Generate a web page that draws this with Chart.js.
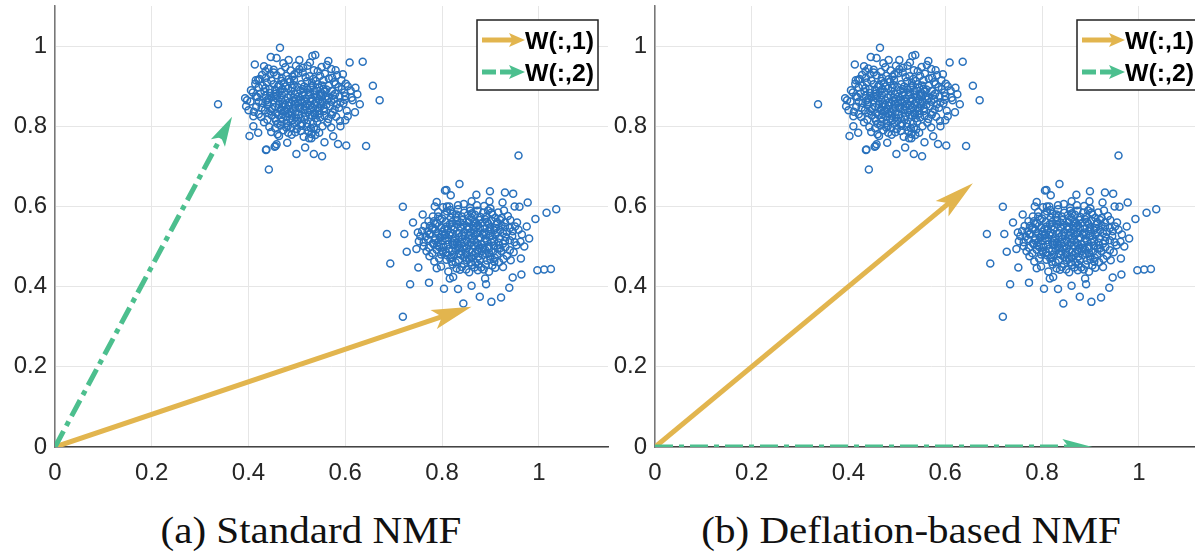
<!DOCTYPE html>
<html>
<head>
<meta charset="utf-8">
<script src="https://cdn.jsdelivr.net/npm/chart.js@4.4.0/dist/chart.umd.min.js"></script>
<style>
  html, body { margin: 0; padding: 0; background: #fff; }
  body { width: 1195px; height: 553px; overflow: hidden; position: relative; }
  .panel { position: absolute; top: 0; }
  #wrapA { left: 0; }
  #wrapB { left: 600px; }
  .caption {
    position: absolute; top: 510px; white-space: nowrap;
    font: 38px "Liberation Serif", "Times New Roman", serif; color: #111;
    line-height: 40px; transform: translateX(-50%) scaleX(1.08);
  }
</style>
</head>
<body>
<div class="panel" id="wrapA"><canvas id="chartA" width="613" height="490"></canvas></div>
<div class="panel" id="wrapB"><canvas id="chartB" width="613" height="490"></canvas></div>
<div class="caption" id="capA" style="left:311px"></div>
<div class="caption" id="capB" style="left:911px"></div>

<script>
// ---- data ----
const xTicks = [0, 0.2, 0.4, 0.6, 0.8, 1];
const yTicks = [0, 0.2, 0.4, 0.6, 0.8, 1];
const captions = ['(a) Standard NMF', '(b) Deflation-based NMF'];
const legendLabels = ['W(:,1)', 'W(:,2)'];

// upper-left cluster (same samples in both panels)
const clusterUpper = [
  [0.337,0.855],[0.465,0.996],[0.442,0.692],[0.671,0.865],[0.636,0.961],[0.609,0.959],[0.657,0.901],
  [0.643,0.751],[0.413,0.954],[0.402,0.776],[0.397,0.865],[0.436,0.741],[0.499,0.731],[0.535,0.731],
  [0.552,0.725],[0.602,0.752],[0.585,0.756],[0.480,0.759],[0.456,0.751],[0.420,0.784],[0.538,0.978],
  [0.532,0.975],[0.483,0.965],[0.446,0.973],[0.458,0.970],[0.562,0.953],[0.621,0.896],[0.605,0.900],
  [0.620,0.835],[0.615,0.865],[0.400,0.840],[0.435,0.937],[0.420,0.916],[0.393,0.870],[0.437,0.742],
  [0.454,0.749],[0.458,0.755],[0.517,0.747],[0.557,0.760],[0.530,0.770],[0.575,0.775],[0.410,0.800],
  [0.405,0.890],[0.590,0.800],[0.600,0.815],[0.630,0.855],[0.625,0.880],
  [0.472,0.957],[0.498,0.951],[0.527,0.959],[0.551,0.948],
  [0.441,0.944],[0.487,0.939],[0.513,0.946],[0.543,0.937],[0.571,0.943],
  [0.428,0.928],[0.452,0.934],[0.478,0.926],[0.503,0.932],[0.526,0.925],[0.558,0.931],[0.583,0.927],
  [0.423,0.918],[0.447,0.914],[0.469,0.921],[0.494,0.916],[0.518,0.922],[0.539,0.913],[0.566,0.919],[0.592,0.915],
  [0.414,0.906],[0.438,0.909],[0.463,0.903],[0.486,0.911],[0.509,0.905],[0.531,0.908],[0.552,0.902],[0.577,0.910],[0.601,0.906],
  [0.421,0.897],[0.444,0.893],[0.461,0.899],[0.482,0.894],[0.501,0.898],[0.522,0.891],[0.546,0.896],[0.561,0.892],[0.586,0.898],[0.611,0.889],
  [0.409,0.884],[0.433,0.887],[0.456,0.881],[0.474,0.886],[0.496,0.880],[0.514,0.885],[0.536,0.879],[0.557,0.886],[0.579,0.881],[0.598,0.884],
  [0.418,0.873],[0.442,0.869],[0.459,0.876],[0.481,0.871],[0.503,0.874],[0.519,0.868],[0.541,0.875],[0.566,0.870],[0.588,0.874],[0.613,0.871],
  [0.404,0.862],[0.429,0.858],[0.451,0.864],[0.471,0.857],[0.492,0.863],[0.511,0.859],[0.532,0.864],[0.549,0.856],[0.571,0.861],[0.596,0.857],
  [0.416,0.849],[0.439,0.853],[0.462,0.846],[0.484,0.851],[0.506,0.847],[0.527,0.852],[0.544,0.845],[0.568,0.850],[0.587,0.846],
  [0.411,0.836],[0.434,0.840],[0.457,0.834],[0.476,0.839],[0.497,0.835],[0.516,0.841],[0.537,0.833],[0.556,0.838],[0.574,0.835],[0.603,0.839],
  [0.426,0.823],[0.448,0.827],[0.468,0.821],[0.489,0.826],[0.508,0.820],[0.531,0.826],[0.548,0.822],[0.581,0.824],
  [0.432,0.810],[0.457,0.814],[0.479,0.808],[0.501,0.813],[0.521,0.807],[0.542,0.812],[0.563,0.809],[0.589,0.813],
  [0.443,0.798],[0.466,0.802],[0.488,0.796],[0.509,0.801],[0.529,0.795],[0.553,0.800],[0.571,0.797],
  [0.447,0.786],[0.472,0.790],[0.497,0.785],[0.524,0.789],[0.546,0.784],
  [0.463,0.776],[0.489,0.779],[0.514,0.774],[0.538,0.778],
  [0.468,0.913],[0.491,0.924],[0.512,0.934],[0.534,0.918],[0.455,0.891],[0.477,0.899],[0.507,0.889],[0.529,0.897],
  [0.551,0.883],[0.447,0.872],[0.468,0.866],[0.487,0.877],[0.498,0.868],[0.524,0.878],[0.545,0.867],[0.559,0.874],
  [0.463,0.855],[0.479,0.844],[0.495,0.856],[0.517,0.850],[0.536,0.856],[0.556,0.845],[0.471,0.830],[0.486,0.818],
  [0.503,0.829],[0.523,0.835],[0.539,0.820],[0.494,0.806],[0.516,0.817],[0.572,0.829],
  [0.452,0.941],[0.476,0.947],[0.505,0.942],[0.522,0.951],[0.548,0.926],[0.573,0.921],[0.436,0.921],[0.458,0.927],
  [0.483,0.917],[0.521,0.912],[0.543,0.905],[0.566,0.901],[0.593,0.893],[0.429,0.901],[0.452,0.905],[0.473,0.908],
  [0.493,0.903],[0.515,0.899],[0.537,0.888],[0.572,0.888],[0.425,0.882],[0.445,0.883],[0.465,0.887],[0.488,0.888],
  [0.527,0.884],[0.547,0.879],[0.577,0.868],[0.599,0.866],[0.421,0.861],[0.437,0.864],[0.458,0.869],[0.476,0.864],
  [0.508,0.866],[0.528,0.862],[0.553,0.862],[0.583,0.855],[0.427,0.846],[0.449,0.843],[0.471,0.849],[0.491,0.844],
  [0.513,0.840],[0.533,0.846],[0.561,0.853],[0.578,0.842],[0.421,0.830],[0.441,0.833],[0.462,0.828],[0.482,0.832],
  [0.527,0.828],[0.547,0.832],[0.565,0.818],[0.439,0.816],[0.468,0.811],[0.491,0.815],[0.511,0.807],[0.533,0.806],
  [0.455,0.795],[0.478,0.797],[0.520,0.799],[0.540,0.792],[0.482,0.784],[0.508,0.788],[0.530,0.781],[0.605,0.825],
  [0.595,0.930],[0.432,0.950],[0.565,0.963],[0.505,0.965],
  [0.445,0.930],[0.467,0.936],[0.495,0.930],[0.535,0.940],[0.555,0.915],[0.580,0.905],[0.435,0.895],[0.470,0.893],
  [0.490,0.897],[0.512,0.893],[0.533,0.902],[0.555,0.893],[0.415,0.874],[0.435,0.876],[0.452,0.874],[0.469,0.878],
  [0.493,0.872],[0.512,0.878],[0.530,0.870],[0.550,0.876],[0.575,0.877],[0.440,0.860],[0.484,0.860],[0.502,0.858],
  [0.521,0.856],[0.540,0.860],[0.562,0.866],[0.455,0.848],[0.475,0.853],[0.496,0.847],[0.516,0.862],[0.550,0.850],
  [0.445,0.838],[0.467,0.840],[0.487,0.837],[0.507,0.843],[0.527,0.840],[0.545,0.838],[0.455,0.820],[0.478,0.824],
  [0.498,0.822],[0.518,0.826],[0.537,0.829],[0.557,0.826],[0.460,0.806],[0.481,0.800],[0.500,0.793],[0.535,0.797],
  [0.590,0.860],[0.600,0.875],[0.415,0.915],[0.580,0.940],[0.460,0.780],[0.525,0.770],[0.395,0.850],[0.410,0.825]
];

// lower-right cluster
const clusterLower = [
  [0.958,0.727],[0.719,0.599],[0.686,0.531],[0.693,0.458],[1.036,0.593],[1.016,0.584],[0.993,0.569],
  [0.836,0.656],[0.809,0.641],[0.818,0.628],[0.806,0.640],[0.899,0.638],[0.930,0.635],[0.947,0.632],
  [0.977,0.610],[0.960,0.599],[0.734,0.406],[0.773,0.410],[0.804,0.395],[0.833,0.394],[0.861,0.402],
  [0.891,0.406],[0.844,0.358],[0.878,0.375],[0.902,0.362],[0.922,0.373],[0.939,0.397],[0.946,0.423],
  [0.964,0.430],[0.997,0.441],[1.011,0.443],[1.025,0.444],[0.719,0.325],[0.751,0.448],[0.789,0.446],
  [0.816,0.420],[0.823,0.424],[0.889,0.420],[0.963,0.470],[0.727,0.487],[0.747,0.494],[0.722,0.531],
  [0.789,0.611],[0.871,0.629],[0.861,0.613],[0.898,0.613],[0.785,0.600],[0.810,0.600],[0.740,0.560],
  [0.750,0.535],[0.975,0.550],[0.980,0.520],[0.970,0.500],[0.950,0.600],[0.925,0.610],
  [0.802,0.598],[0.833,0.603],[0.858,0.596],[0.887,0.601],
  [0.792,0.586],[0.817,0.591],[0.846,0.584],[0.873,0.589],[0.902,0.585],[0.928,0.590],
  [0.781,0.575],[0.806,0.579],[0.829,0.573],[0.853,0.578],[0.879,0.574],[0.904,0.580],[0.936,0.576],
  [0.772,0.563],[0.796,0.567],[0.821,0.561],[0.842,0.566],[0.866,0.562],[0.889,0.568],[0.914,0.561],[0.941,0.566],
  [0.764,0.551],[0.786,0.556],[0.809,0.550],[0.831,0.555],[0.852,0.549],[0.874,0.554],[0.899,0.548],[0.923,0.553],[0.951,0.550],
  [0.759,0.539],[0.781,0.543],[0.801,0.537],[0.824,0.542],[0.846,0.536],[0.866,0.541],[0.887,0.535],[0.908,0.541],[0.934,0.537],[0.958,0.542],
  [0.755,0.526],[0.774,0.530],[0.796,0.524],[0.815,0.529],[0.836,0.523],[0.857,0.528],[0.879,0.522],[0.899,0.527],[0.919,0.521],[0.945,0.526],
  [0.752,0.513],[0.771,0.518],[0.791,0.511],[0.811,0.516],[0.831,0.510],[0.851,0.515],[0.872,0.509],[0.893,0.514],[0.916,0.510],[0.940,0.516],[0.962,0.512],
  [0.762,0.501],[0.783,0.505],[0.803,0.499],[0.823,0.504],[0.845,0.498],[0.866,0.503],[0.885,0.497],[0.907,0.502],[0.931,0.498],[0.954,0.503],
  [0.768,0.488],[0.789,0.492],[0.808,0.486],[0.829,0.491],[0.849,0.485],[0.873,0.490],[0.897,0.484],[0.922,0.489],[0.948,0.486],
  [0.774,0.476],[0.798,0.480],[0.819,0.474],[0.839,0.479],[0.861,0.473],[0.884,0.478],[0.909,0.472],[0.934,0.477],
  [0.784,0.463],[0.809,0.467],[0.828,0.461],[0.851,0.466],[0.869,0.460],[0.893,0.465],[0.918,0.461],[0.942,0.466],
  [0.798,0.450],[0.822,0.455],[0.841,0.449],[0.862,0.454],[0.881,0.448],[0.904,0.453],[0.926,0.449],
  [0.813,0.438],[0.837,0.442],[0.856,0.436],[0.874,0.441],[0.897,0.437],
  [0.821,0.582],[0.861,0.571],[0.883,0.559],[0.838,0.547],[0.858,0.535],[0.878,0.546],[0.896,0.556],[0.817,0.535],
  [0.842,0.519],[0.862,0.522],[0.884,0.531],[0.905,0.519],[0.826,0.506],[0.851,0.495],[0.869,0.484],[0.889,0.492],
  [0.835,0.482],[0.856,0.470],[0.878,0.467],[0.817,0.470],[0.899,0.475],[0.915,0.495],[0.926,0.533],[0.911,0.546],
  [0.796,0.522],[0.786,0.543],[0.845,0.456],[0.867,0.448],
  [0.815,0.600],[0.845,0.606],[0.872,0.603],[0.900,0.595],[0.833,0.593],[0.858,0.589],[0.885,0.584],[0.916,0.585],
  [0.792,0.575],[0.818,0.572],[0.841,0.575],[0.868,0.579],[0.892,0.575],[0.923,0.571],[0.783,0.563],[0.808,0.561],
  [0.831,0.566],[0.855,0.560],[0.877,0.566],[0.902,0.565],[0.930,0.560],[0.775,0.551],[0.798,0.546],[0.820,0.550],
  [0.844,0.554],[0.864,0.552],[0.888,0.545],[0.913,0.556],[0.940,0.546],[0.770,0.538],[0.792,0.533],[0.812,0.541],
  [0.834,0.534],[0.852,0.543],[0.874,0.534],[0.896,0.538],[0.920,0.541],[0.946,0.538],[0.766,0.525],[0.786,0.521],
  [0.806,0.528],[0.826,0.520],[0.847,0.526],[0.868,0.529],[0.889,0.520],[0.910,0.529],[0.932,0.524],[0.762,0.511],
  [0.781,0.508],[0.801,0.514],[0.821,0.510],[0.840,0.507],[0.861,0.510],[0.882,0.506],[0.902,0.510],[0.926,0.507],
  [0.950,0.511],[0.773,0.497],[0.794,0.499],[0.814,0.494],[0.835,0.497],[0.856,0.491],[0.877,0.497],[0.896,0.501],
  [0.918,0.504],[0.940,0.491],[0.780,0.483],[0.802,0.487],[0.824,0.480],[0.845,0.474],[0.865,0.479],[0.890,0.483],
  [0.914,0.481],[0.927,0.469],[0.794,0.470],[0.835,0.466],[0.875,0.455],[0.908,0.462],[0.830,0.445],[0.886,0.443],
  [0.810,0.588],[0.862,0.583],[0.895,0.590],[0.800,0.570],[0.830,0.580],[0.857,0.567],[0.910,0.572],[0.790,0.558],
  [0.816,0.556],[0.838,0.560],[0.870,0.558],[0.893,0.562],[0.920,0.566],[0.780,0.547],[0.805,0.543],[0.826,0.547],
  [0.856,0.546],[0.870,0.548],[0.900,0.543],[0.930,0.549],[0.775,0.532],[0.800,0.530],[0.822,0.532],[0.841,0.528],
  [0.865,0.533],[0.891,0.530],[0.915,0.535],[0.785,0.516],[0.806,0.520],[0.825,0.514],[0.846,0.511],[0.866,0.516],
  [0.887,0.512],[0.908,0.514],[0.930,0.514],[0.790,0.503],[0.812,0.505],[0.833,0.502],[0.855,0.504],[0.875,0.503],
  [0.897,0.495],[0.920,0.496],[0.800,0.490],[0.820,0.488],[0.840,0.488],[0.862,0.486],[0.882,0.488],[0.905,0.487],
  [0.810,0.478],[0.850,0.480],[0.875,0.475],[0.900,0.468],[0.820,0.462],[0.860,0.460],[0.890,0.455],[0.850,0.443],
  [0.910,0.447],[0.760,0.580],[0.955,0.560],[0.965,0.530]
];

// arrow tips (tails at the origin)
const standardW1 = [0.861, 0.350];
const standardW2 = [0.366, 0.824];
const deflationW1 = [0.657, 0.658];
const deflationW2 = [0.904, 0.000];

const YELLOW = '#E2B54E';
const GREEN = '#4CBF8E';
const BLUE = '#2A72BD';
const W1_STYLE = { color: YELLOW, dash: [], head: 40, half: 10 };
const W2_STYLE = { color: GREEN, dash: [18, 6, 5, 6], head: 30, half: 8 };

function drawArrow(ctx, x0, y0, x1, y1, st, width) {
  const ang = Math.atan2(y1 - y0, x1 - x0);
  const len = Math.hypot(x1 - x0, y1 - y0);
  ctx.save();
  ctx.translate(x0, y0);
  ctx.rotate(ang);
  ctx.strokeStyle = st.color;
  ctx.fillStyle = st.color;
  ctx.lineWidth = width;
  ctx.setLineDash(st.dash);
  ctx.beginPath();
  ctx.moveTo(0, 0);
  ctx.lineTo(len - st.head * 0.7, 0);
  ctx.stroke();
  ctx.setLineDash([]);
  ctx.beginPath();
  ctx.moveTo(len, 0);
  ctx.lineTo(len - st.head, -st.half);
  ctx.lineTo(len - st.head * 0.78, 0);
  ctx.lineTo(len - st.head, st.half);
  ctx.closePath();
  ctx.fill();
  ctx.restore();
}

const arrowPlugin = {
  id: 'nmfArrows',
  afterDatasetsDraw(chart, args, opts) {
    const { ctx, chartArea: a, scales: { x, y } } = chart;
    ctx.save();
    ctx.beginPath();
    ctx.rect(a.left, a.top, a.right - a.left, a.bottom - a.top);
    ctx.clip();
    const ox = x.getPixelForValue(0), oy = y.getPixelForValue(0);
    opts.arrows.forEach(ar => {
      drawArrow(ctx, ox, oy, x.getPixelForValue(ar.tip[0]), y.getPixelForValue(ar.tip[1]), ar.style, 5);
    });
    ctx.restore();
  },
  afterDraw(chart, args, opts) {
    // legend box, top right
    const { ctx, chartArea: a } = chart;
    const bx = a.left + 422, by = 20, bw = 121, bh = 70;
    ctx.save();
    ctx.fillStyle = '#fff';
    ctx.fillRect(bx, by, bw, bh);
    ctx.strokeStyle = '#222';
    ctx.lineWidth = 1.5;
    ctx.strokeRect(bx, by, bw, bh);
    const rows = [{ y: by + 20, st: W1_STYLE }, { y: by + 52, st: W2_STYLE }];
    rows.forEach((r, i) => {
      const st = Object.assign({}, r.st, { head: 16, half: 7, dash: r.st.dash.length ? [14, 4] : [] });
      drawArrow(ctx, bx + 5, r.y, bx + 48, r.y, st, 5);
      ctx.save();
      ctx.translate(bx + 48, r.y + 3);
      ctx.scale(1.08, 1);
      ctx.fillStyle = '#000';
      ctx.font = 'bold 23px "Liberation Sans", Arial, sans-serif';
      ctx.textBaseline = 'middle';
      ctx.fillText(legendLabels[i], 0, 0);
      ctx.restore();
    });
    ctx.restore();
  }
};

function makePanel(canvasId, arrows) {
  const tickFont = { family: '"Liberation Sans", Arial, sans-serif', size: 24 };
  return new Chart(document.getElementById(canvasId), {
    type: 'scatter',
    data: {
      datasets: [{
        data: clusterUpper.concat(clusterLower).map(p => ({ x: p[0], y: p[1] })),
        pointStyle: 'circle',
        pointRadius: 3.5,
        pointBorderWidth: 1.5,
        pointBorderColor: BLUE,
        pointBackgroundColor: 'rgba(0,0,0,0)',
        pointHoverRadius: 3.5
      }]
    },
    options: {
      responsive: false,
      animation: false,
      events: [],
      layout: { padding: { top: 6, right: 0, left: 0, bottom: 0 } },
      plugins: {
        legend: { display: false },
        tooltip: { enabled: false },
        nmfArrows: { arrows }
      },
      scales: {
        x: {
          type: 'linear', min: 0, max: 1.143,
          afterBuildTicks: s => { s.ticks = xTicks.map(v => ({ value: v })); },
          afterFit: s => { s.height = 43; s.paddingLeft = 0; s.paddingRight = 0; },
          ticks: { font: tickFont, color: '#262626', padding: 12, maxRotation: 0, autoSkip: false,
                   callback: v => String(v) },
          grid: { color: '#e6e6e6', lineWidth: 1, drawTicks: false, tickLength: 0 },
          border: { display: true, color: '#444', width: 1.5 }
        },
        y: {
          type: 'linear', min: 0, max: 1.1,
          afterBuildTicks: s => { s.ticks = yTicks.map(v => ({ value: v })); },
          afterFit: s => { s.width = 55; s.paddingTop = 0; s.paddingBottom = 0; },
          ticks: { font: tickFont, color: '#262626', padding: 8, autoSkip: false,
                   callback: v => String(v) },
          grid: { color: '#e6e6e6', lineWidth: 1, drawTicks: false, tickLength: 0 },
          border: { display: true, color: '#777', width: 1.5 }
        }
      }
    },
    plugins: [arrowPlugin]
  });
}

makePanel('chartA', [
  { tip: standardW1, style: W1_STYLE },
  { tip: standardW2, style: W2_STYLE }
]);
makePanel('chartB', [
  { tip: deflationW1, style: W1_STYLE },
  { tip: deflationW2, style: W2_STYLE }
]);
document.getElementById('capA').textContent = captions[0];
document.getElementById('capB').textContent = captions[1];
</script>
</body>
</html>
